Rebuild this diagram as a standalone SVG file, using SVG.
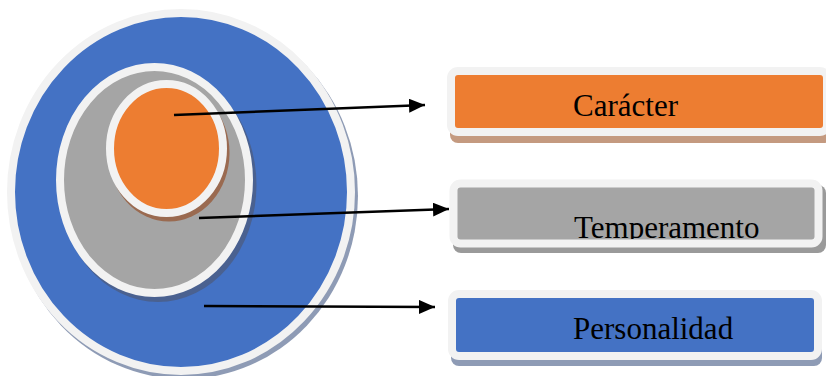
<svg xmlns="http://www.w3.org/2000/svg" width="826" height="376" viewBox="0 0 826 376">
<defs>
<style>
.ring{stroke:#f2f2f2;stroke-width:8}
.lbl{font-family:"Liberation Serif","Times New Roman",serif;font-size:31px;fill:#000}
.conn{stroke:#000;stroke-width:2.5;fill:none}
</style>
<marker id="ah" markerUnits="userSpaceOnUse" markerWidth="16" markerHeight="14" refX="16" refY="7" orient="auto">
<path d="M0,0 L16,7 L0,14 Z" fill="#000"/>
</marker>
<clipPath id="tclip"><rect x="440" y="170" width="386" height="69"/></clipPath>
</defs>
<rect width="826" height="376" fill="#fff"/>
<g id="circle-personalidad">
<ellipse cx="184" cy="196" rx="174" ry="183" fill="#8e9bb5"/>
<ellipse cx="181" cy="192" rx="170" ry="179" fill="#4472c4" class="ring"/>
</g>
<g id="circle-temperamento">
<ellipse cx="158" cy="185" rx="98.5" ry="117" fill="#4a6190"/>
<ellipse cx="154.5" cy="180" rx="94.5" ry="113" fill="#a5a5a5" class="ring"/>
</g>
<g id="circle-caracter">
<ellipse cx="169" cy="153" rx="60.5" ry="68.5" fill="#9a6a50"/>
<ellipse cx="166.5" cy="148.5" rx="56.5" ry="64.5" fill="#ed7d31" class="ring"/>
</g>
<g id="box-caracter">
<rect x="450" y="74" width="382" height="69" rx="8" fill="#c49a80"/>
<rect x="451" y="71" width="376" height="61" rx="7" fill="#ed7d31" class="ring"/>
<text x="573" y="116" class="lbl">Carácter</text>
</g>
<g id="box-temperamento">
<rect x="453" y="185" width="373" height="68" rx="8" fill="#9a9a9a"/>
<rect x="453.5" y="183.5" width="365" height="60" rx="7" fill="#a5a5a5" class="ring"/>
<text x="574" y="238" class="lbl" clip-path="url(#tclip)">Temperamento</text>
</g>
<g id="box-personalidad">
<rect x="451" y="296" width="371" height="70" rx="8" fill="#8e9bb5"/>
<rect x="452" y="294" width="366" height="62" rx="7" fill="#4472c4" class="ring"/>
<text x="573" y="339" class="lbl">Personalidad</text>
</g>
<g id="connectors">
<line x1="174" y1="115" x2="425" y2="105" class="conn" marker-end="url(#ah)"/>
<line x1="199" y1="218" x2="449" y2="209" class="conn" marker-end="url(#ah)"/>
<line x1="204" y1="306" x2="435" y2="307" class="conn" marker-end="url(#ah)"/>
</g>
</svg>
